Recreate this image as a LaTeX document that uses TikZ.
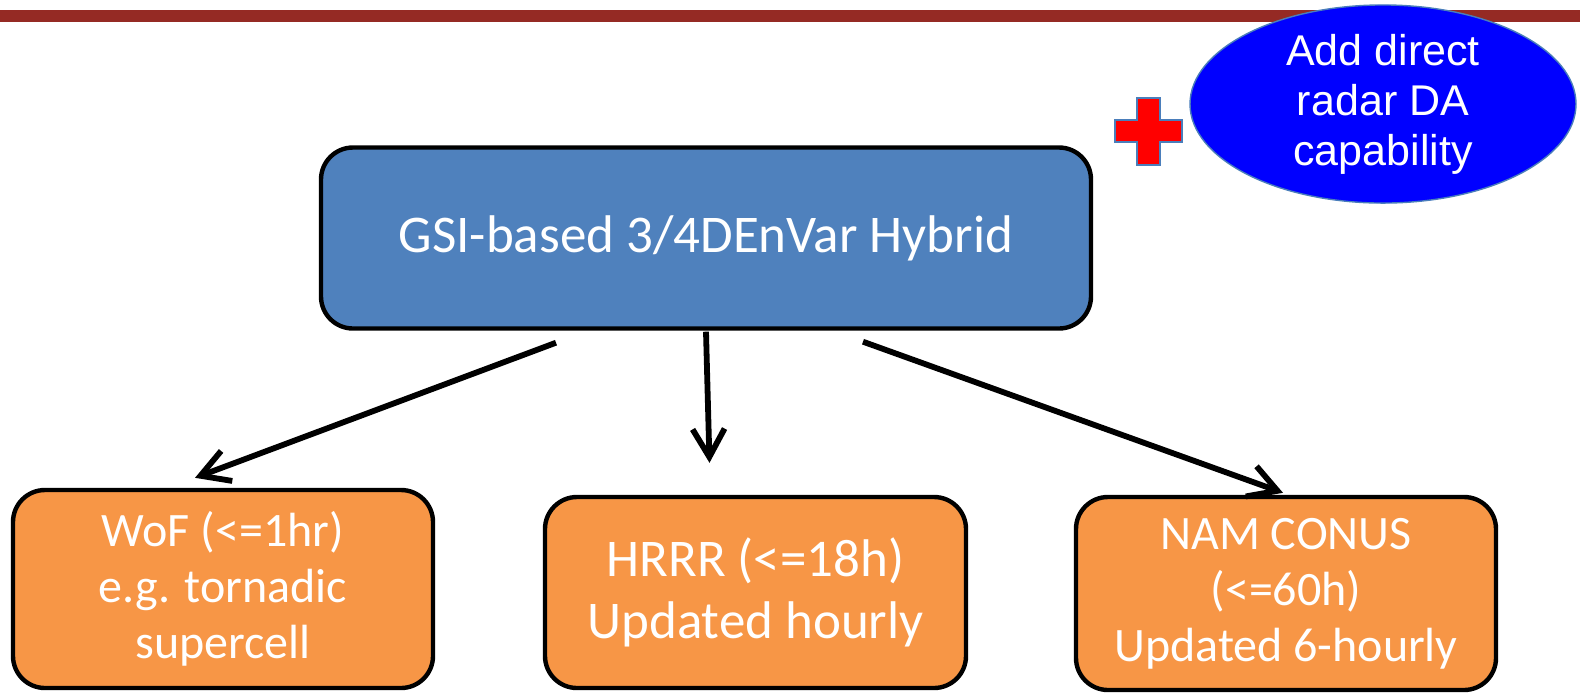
\documentclass[tikz,border=0pt]{standalone}
\usepackage{fontspec}
\newfontfamily\calfont{Carlito}
\newfontfamily\arifont{Liberation Sans}
\usetikzlibrary{shapes.geometric,arrows.meta}
\definecolor{barred}{HTML}{952A24}
\definecolor{boxblue}{HTML}{4F81BD}
\definecolor{boxorange}{HTML}{F79646}
\definecolor{pureblue}{HTML}{0000FF}
\definecolor{edgeblue}{HTML}{4A7EBB}
\tikzset{
  mainbox/.style={draw=black, line width=2.2pt, rounded corners=16pt, fill=boxblue,
    text=white, align=center, font=\calfont\fontsize{26.5}{28}\selectfont,
    inner sep=0pt, minimum width=385pt, minimum height=90.5pt},
  outbox/.style={draw=black, line width=2.2pt, rounded corners=16pt, fill=boxorange,
    text=white, align=center, font=\calfont\fontsize{24}{28}\selectfont,
    inner sep=0pt},
  bubble/.style={ellipse, draw=edgeblue, line width=0.7pt, fill=pureblue,
    text=white, align=center, font=\arifont\fontsize{21.5}{25}\selectfont,
    inner sep=0pt, minimum width=193pt, minimum height=95pt},
  arr/.style={line width=2.9pt, -{Straight Barb[length=14pt,width=16pt]}}
}
\begin{document}
\begin{tikzpicture}[x=1pt,y=-1pt]
\useasboundingbox (0,0) rectangle (790,346.5);
% top bar
\fill[barred] (0,5) rectangle (790,11);
% main box
\node[mainbox] (gsi) at (353,119) {GSI-based 3/4DEnVar Hybrid};
% bubble
\node[bubble] (radar) at (691.5,52) {Add direct\\radar DA\\capability};
% plus sign
\draw[fill=red, draw=edgeblue, line width=0.6pt]
  (568.5,49) -- (580,49) -- (580,60) -- (591,60) -- (591,71) -- (580,71)
  -- (580,82.5) -- (568.5,82.5) -- (568.5,71) -- (557.5,71) -- (557.5,60)
  -- (568.5,60) -- cycle;
% output boxes
\node[outbox, minimum width=210pt, minimum height=99pt] (wof) at (111.5,294.5)
  {WoF (<=1hr)\\e.g. tornadic\\supercell};
\node[outbox, minimum width=210.5pt, minimum height=95.5pt, font=\calfont\fontsize{26.5}{31}\selectfont] (hrrr) at (377.75,296.25)
  {HRRR (<=18h)\\Updated hourly};
\node[outbox, minimum width=210pt, minimum height=96.5pt] (nam) at (643,296.75)
  {NAM CONUS\\(<=60h)\\Updated 6-hourly};
% arrows
\draw[arr] ([xshift=-75pt,yshift=-6pt]gsi.south) -- ([xshift=-14pt,yshift=5pt]wof.north);
\draw[arr] ([yshift=-0.5pt]gsi.south) -- ([xshift=-23pt,yshift=16pt]hrrr.north);
\draw[arr] ([xshift=78.5pt,yshift=-5.5pt]gsi.south) -- ([xshift=-1.5pt,yshift=1pt]nam.north);
\end{tikzpicture}
\end{document}
